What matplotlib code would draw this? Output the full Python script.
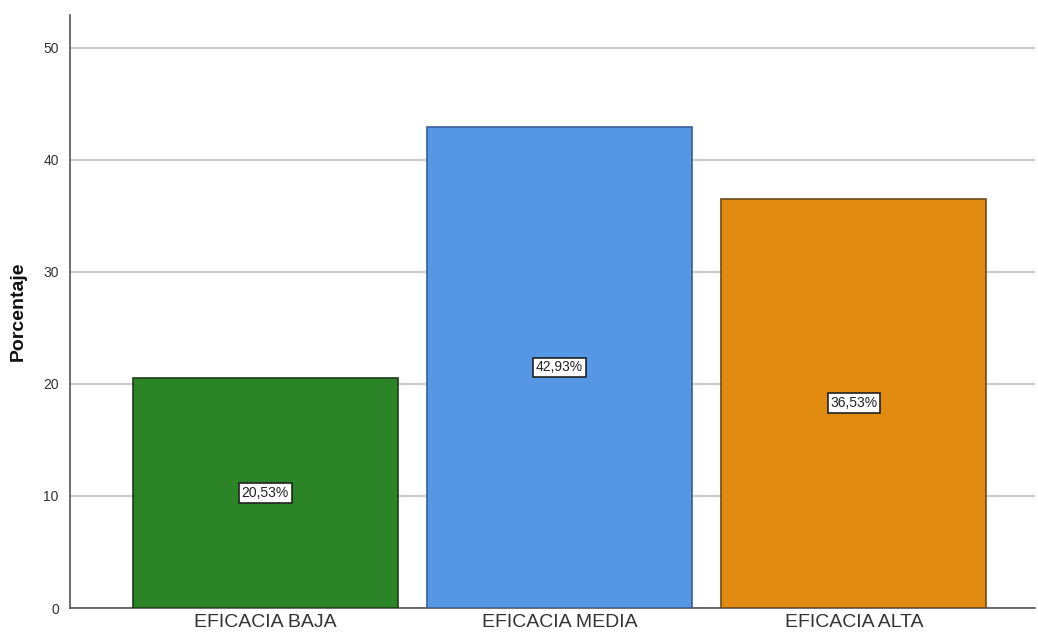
import matplotlib
matplotlib.use("Agg")
import matplotlib.pyplot as plt

categories = ["EFICACIA BAJA", "EFICACIA MEDIA", "EFICACIA ALTA"]
percentages = [20.53, 42.93, 36.53]
bar_colors = ["#2b8527", "#5596e5", "#e08b10"]
edge_colors = ["#1d3d1a", "#3a5f95", "#6b4a1a"]
y_ticks = [0, 10, 20, 30, 40, 50]

plt.rcParams["font.family"] = ["Liberation Sans", "DejaVu Sans"]

fig = plt.figure(figsize=(10.38, 6.44), dpi=100)
ax = fig.add_axes([0.0674, 0.0559, 0.9296, 0.9208])

x = range(len(categories))
bars = ax.bar(x, percentages, width=0.9, color=bar_colors,
              edgecolor=edge_colors, linewidth=1.2, zorder=3)

for i, v in enumerate(percentages):
    ax.text(i, v / 2, f"{v:.2f}%".replace(".", ","), ha="center", va="center",
            fontsize=10, color="#222222", zorder=4,
            bbox=dict(boxstyle="square,pad=0.2", facecolor="white",
                      edgecolor="#222222", linewidth=1.2))

ax.set_xlim(-0.664, 2.615)
ax.set_ylim(0, 52.9)
ax.set_yticks(y_ticks)
ax.set_yticklabels([str(t) for t in y_ticks], fontsize=10, color="#333333")
ax.set_xticks(list(x))
ax.set_xticklabels(categories, fontsize=14, color="#333333")
ax.tick_params(axis="both", length=0, pad=8)
ax.tick_params(axis="x", pad=4)
ax.yaxis.grid(True, color="#cccccc", linewidth=1.5, zorder=0)
ax.set_axisbelow(True)

for side in ("top", "right"):
    ax.spines[side].set_visible(False)
for side in ("left", "bottom"):
    ax.spines[side].set_color("#555555")
    ax.spines[side].set_linewidth(1.2)

ax.set_ylabel("Porcentaje", fontsize=14, fontweight="bold", color="#111111", labelpad=12)

fig.savefig("out.png", dpi=100, facecolor="white")
